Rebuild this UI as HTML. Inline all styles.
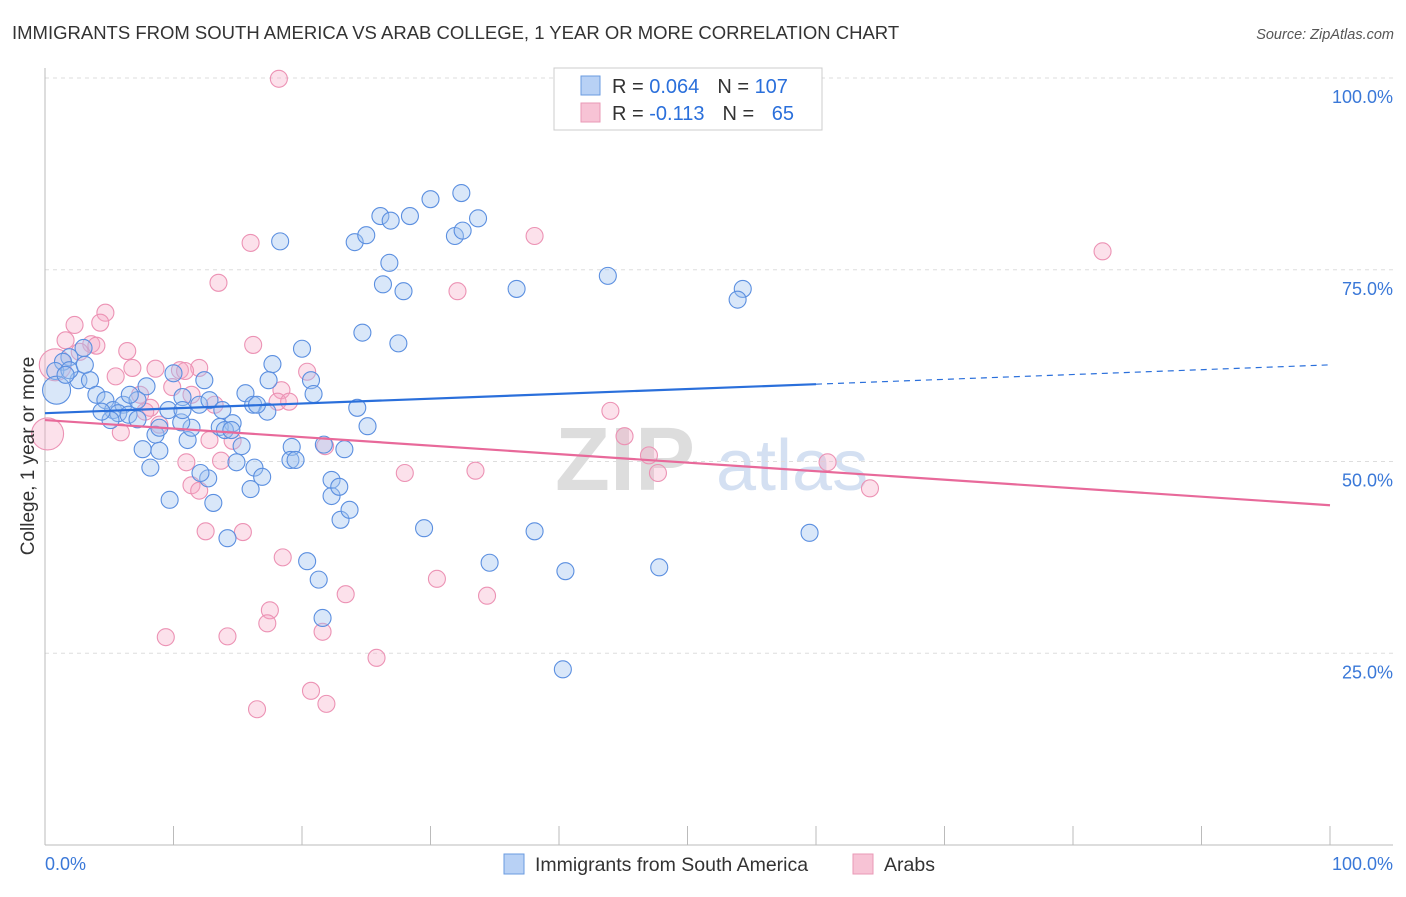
<!DOCTYPE html>
<html><head><meta charset="utf-8"><style>
body{margin:0;background:#fff;font-family:"Liberation Sans",sans-serif}
svg text{font-family:"Liberation Sans",sans-serif}
</style></head><body>
<svg id="chart" width="1406" height="892">
<text x="12" y="39" font-size="18.5" fill="#333">IMMIGRANTS FROM SOUTH AMERICA VS ARAB COLLEGE, 1 YEAR OR MORE CORRELATION CHART</text>
<text x="1394" y="39" font-size="14.5" fill="#555" font-style="italic" text-anchor="end">Source: ZipAtlas.com</text>
<g><text x="555" y="490" font-size="90" fill="#ddd" font-family="Liberation Serif" font-weight="bold">ZIP</text><text x="716" y="490" font-size="72" fill="#d4e0f2">atlas</text></g>
<g id="grid"></g><g id="axes"></g><g id="pts"></g><g id="lines"></g>
<text transform="translate(34,456) rotate(-90)" font-size="19" fill="#333" text-anchor="middle">College, 1 year or more</text>
<g>
<rect x="554" y="68" width="268" height="62" fill="#fff" stroke="#ccc"/>
<rect x="581" y="76" width="19" height="19" fill="#b8d1f5" stroke="#6a9be0"/>
<rect x="581" y="103" width="19" height="19" fill="#f7c3d5" stroke="#ea98b6"/>
<text x="612" y="93" font-size="20" fill="#333">R = <tspan fill="#2a6fdb">0.064</tspan><tspan dx="18">N = </tspan><tspan fill="#2a6fdb">107</tspan></text>
<text x="612" y="120" font-size="20" fill="#333">R = <tspan fill="#2a6fdb">-0.113</tspan><tspan dx="18">N = </tspan><tspan fill="#2a6fdb" dx="12">65</tspan></text>
</g>
<g>
<rect x="504" y="854" width="20" height="20" fill="#b8d1f5" stroke="#6a9be0"/>
<text x="535" y="871" font-size="19.5" fill="#333">Immigrants from South America</text>
<rect x="853" y="854" width="20" height="20" fill="#f7c3d5" stroke="#ea98b6"/>
<text x="884" y="871" font-size="19.5" fill="#333">Arabs</text>
</g>
</svg>
<script>
const yTicks=[25,50,75,100];
const yTickLabels=["25.0%","50.0%","75.0%","100.0%"];
const xTickLabels=["0.0%","100.0%"];
const blueX=[18.3,24.1,25.0,26.1,26.9,28.4,30.0,32.4,31.9,32.5,33.7,26.8,26.3,27.9,36.7,43.8,54.3,53.9,24.7,27.5,20.0,17.7,12.4,10.0,7.9,15.6,17.4,20.7,20.9,24.3,25.1,21.7,23.3,19.2,19.1,19.5,16.2,17.3,14.6,13.6,15.3,14.9,16.3,16.9,16.0,12.7,12.1,11.1,11.4,10.7,9.6,10.6,8.6,8.9,7.6,8.2,9.7,13.1,14.2,20.4,21.3,21.6,22.3,22.3,22.9,23.0,23.7,29.5,38.1,34.6,40.5,47.8,59.5,40.3,3.0,1.9,1.4,0.8,2.6,3.5,4.0,4.7,5.3,6.1,7.2,6.6,5.7,5.1,4.4,6.5,7.2,8.9,10.7,12.0,12.8,13.8,14.0,0.9,1.9,3.1,1.6,14.5,16.5];
const blueY=[78.7,78.6,79.5,82.0,81.4,82.0,84.2,85.0,79.4,80.1,81.7,75.9,73.1,72.2,72.5,74.2,72.5,71.1,66.8,65.4,64.7,62.7,60.6,61.5,59.8,58.9,60.6,60.6,58.8,57.0,54.6,52.2,51.6,51.9,50.2,50.2,57.4,56.5,55.0,54.5,52.0,49.9,49.2,48.0,46.4,47.8,48.5,52.8,54.4,58.4,56.7,55.1,53.5,51.4,51.6,49.2,45.0,44.6,40.0,37.0,34.6,29.6,45.5,47.6,46.7,42.4,43.7,41.3,40.9,36.8,35.7,36.2,40.7,22.9,64.8,63.6,63.0,61.8,60.6,60.6,58.7,58.0,56.7,57.4,58.0,58.7,56.3,55.4,56.5,56.1,55.5,54.4,56.7,57.4,58.0,56.7,54.1,59.3,61.9,62.6,61.3,54.1,57.4];
const blueBig=[97];
const pinkX=[18.2,16.0,38.1,82.3,13.5,32.1,4.7,2.3,4.3,3.6,6.4,16.2,8.6,10.5,12.0,5.5,6.8,9.9,18.4,18.1,13.2,11.4,20.4,19.0,8.2,7.8,8.9,5.9,12.8,14.6,13.7,11.0,11.4,12.0,21.8,28.0,33.5,44.0,45.1,47.0,47.7,60.9,64.2,18.5,17.5,17.3,23.4,21.6,9.4,14.2,30.5,34.4,25.8,20.7,21.9,16.5,12.5,15.4,1.6,2.7,0.2,0.8,4.0,7.4,10.9];
const pinkY=[99.9,78.5,79.4,77.4,73.3,72.2,69.4,67.8,68.1,65.3,64.4,65.2,62.1,61.9,62.2,61.1,62.2,59.7,59.3,57.8,57.4,58.7,61.7,57.8,57.0,56.5,54.8,53.8,52.8,52.7,50.1,49.9,46.9,46.2,52.0,48.5,48.8,56.6,53.3,50.8,48.5,49.9,46.5,37.5,30.6,28.9,32.7,27.8,27.1,27.2,34.7,32.5,24.4,20.1,18.4,17.7,40.9,40.8,65.8,64.3,53.6,62.6,65.1,58.7,61.8];
const pinkBig=[60,61];
const blueTrend=[56.3,62.6];
const pinkTrend=[55.4,44.3];
const X0=45,X1=1330,Y0=845,Y1=78;
const sx=v=>X0+(X1-X0)*v/100, sy=v=>Y0-(Y0-Y1)*v/100;
const NS="http://www.w3.org/2000/svg";
function mk(tag,attrs,parent){const e=document.createElementNS(NS,tag);for(const k in attrs)e.setAttribute(k,attrs[k]);document.getElementById(parent).appendChild(e);return e;}
yTicks.forEach((t,i)=>{
 const g=mk('line',{x1:X0,x2:1393,y1:sy(t),y2:sy(t),stroke:'#ddd','stroke-dasharray':'4,4'},'grid');
 
 
 const tx=mk('text',{x:1393,y:sy(t)+25,'font-size':18,fill:'#3a78d8','text-anchor':'end'},'axes');
 tx.textContent=yTickLabels[i];
 
 
});
const ax=mk('line',{x1:X0,x2:X0,y1:68,y2:Y0,stroke:'#bbb'},'axes');


const axb=mk('line',{x1:X0,x2:1393,y1:Y0,y2:Y0,stroke:'#bbb'},'axes');


for(let i=0;i<=10;i++){
 const t=mk('line',{x1:sx(i*10),x2:sx(i*10),y1:826,y2:Y0,stroke:'#bbb'},'axes');
 
 
}
[[0,'start',45],[100,'end',1393]].forEach(([v,a,x],i)=>{
 const t=mk('text',{x:x,y:870,'font-size':18,fill:'#3a78d8','text-anchor':a},'axes');
 t.textContent=xTickLabels[i];
 
 
});
pinkX.forEach((x,i)=>{
 const c=mk('circle',{cx:sx(x),cy:sy(pinkY[i]),r:pinkBig.includes(i)?16:8.5,fill:'rgba(245,170,198,0.35)',stroke:'#ec92b4','stroke-width':1.1},'pts');
 
 
});
blueX.forEach((x,i)=>{
 const c=mk('circle',{cx:sx(x),cy:sy(blueY[i]),r:blueBig.includes(i)?14:8.5,fill:'rgba(160,195,240,0.4)',stroke:'#5b8fe0','stroke-width':1.1},'pts');
 
 
});
const bAt=v=>blueTrend[0]+(blueTrend[1]-blueTrend[0])*v/100;
const bl=mk('line',{x1:sx(0),y1:sy(bAt(0)),x2:sx(60),y2:sy(bAt(60)),stroke:'#2a6fdb','stroke-width':2.2},'lines');


const bd=mk('line',{x1:sx(60),y1:sy(bAt(60)),x2:sx(100),y2:sy(bAt(100)),stroke:'#2a6fdb','stroke-width':1.2,'stroke-dasharray':'6,5'},'lines');


const pl=mk('line',{x1:sx(0),y1:sy(pinkTrend[0]),x2:sx(100),y2:sy(pinkTrend[1]),stroke:'#e8699a','stroke-width':2.2},'lines');


</script>
</body></html>
